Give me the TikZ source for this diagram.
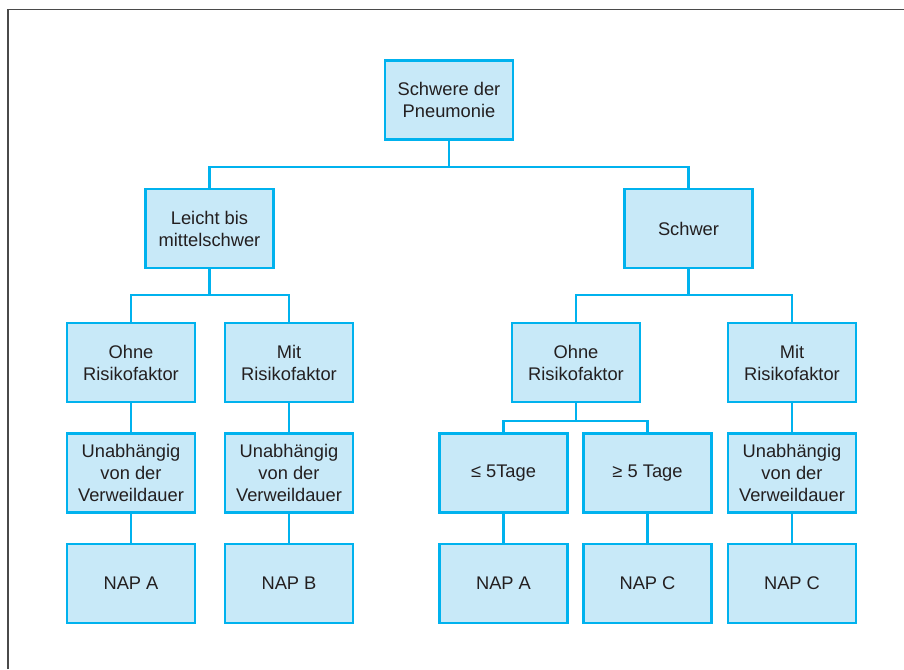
\documentclass[tikz,border=0pt]{standalone}
\usepackage{fontspec}
\setmainfont{Liberation Sans}
\definecolor{boxfill}{HTML}{C8E9F8}
\definecolor{boxline}{HTML}{00B2EE}
\definecolor{txt}{HTML}{231F20}
\definecolor{frame}{HTML}{4A4A4A}
\begin{document}
\begin{tikzpicture}[x=1pt,y=-1pt,
  box/.style={draw=boxline,fill=boxfill,line width=2.2pt,minimum width=128pt,minimum height=79pt,
    align=center,inner sep=2pt,text=txt,font=\fontsize{18.3}{22}\selectfont},
  conn/.style={draw=boxline,line width=2.2pt}]
\useasboundingbox (0,0) rectangle (904,669);
\draw[frame,line width=1.2pt] (8,669) -- (8,9.5) -- (904,9.5);
% level 1
\node[box] (root) at (449,100) {Schwere der\\Pneumonie};
% level 2
\node[box] (leicht) at (209.5,228.5) {Leicht bis\\mittelschwer};
\node[box] (schwer) at (688.5,228.5) {Schwer};
% level 3
\node[box] (ohneL) at (131,362.5) {Ohne\\Risikofaktor};
\node[box] (mitL) at (289,362.5) {Mit\\Risikofaktor};
\node[box] (ohneR) at (576,362.5) {Ohne\\Risikofaktor};
\node[box] (mitR) at (792,362.5) {Mit\\Risikofaktor};
% level 4
\node[box] (unL) at (131,473) {Unabhängig\\von der\\Verweildauer};
\node[box] (unM) at (289,473) {Unabhängig\\von der\\Verweildauer};
\node[box] (le) at (503.5,473) {≤ 5Tage};
\node[box] (ge) at (647.5,473) {≥ 5 Tage};
\node[box] (unR) at (792,473) {Unabhängig\\von der\\Verweildauer};
% level 5
\node[box] (napA1) at (131,583.5) {NAP A};
\node[box] (napB) at (289,583.5) {NAP B};
\node[box] (napA2) at (503.5,583.5) {NAP A};
\node[box] (napC1) at (647.5,583.5) {NAP C};
\node[box] (napC2) at (792,583.5) {NAP C};
% connectors
\draw[conn] (root.south) -- ++(0,26) -| (leicht.north);
\draw[conn] (root.south) -- ++(0,26) -| (schwer.north);
\draw[conn] (leicht.south) -- ++(0,26) -| (ohneL.north);
\draw[conn] (leicht.south) -- ++(0,26) -| (mitL.north);
\draw[conn] (schwer.south) -- ++(0,26) -| (ohneR.north);
\draw[conn] (schwer.south) -- ++(0,26) -| (mitR.north);
\draw[conn] (ohneR.south) -- ++(0,18) -| (le.north);
\draw[conn] (ohneR.south) -- ++(0,18) -| (ge.north);
\draw[conn] (ohneL.south) -- (unL.north);
\draw[conn] (mitL.south) -- (unM.north);
\draw[conn] (mitR.south) -- (unR.north);
\draw[conn] (unL.south) -- (napA1.north);
\draw[conn] (unM.south) -- (napB.north);
\draw[conn] (le.south) -- (napA2.north);
\draw[conn] (ge.south) -- (napC1.north);
\draw[conn] (unR.south) -- (napC2.north);
\end{tikzpicture}
\end{document}
